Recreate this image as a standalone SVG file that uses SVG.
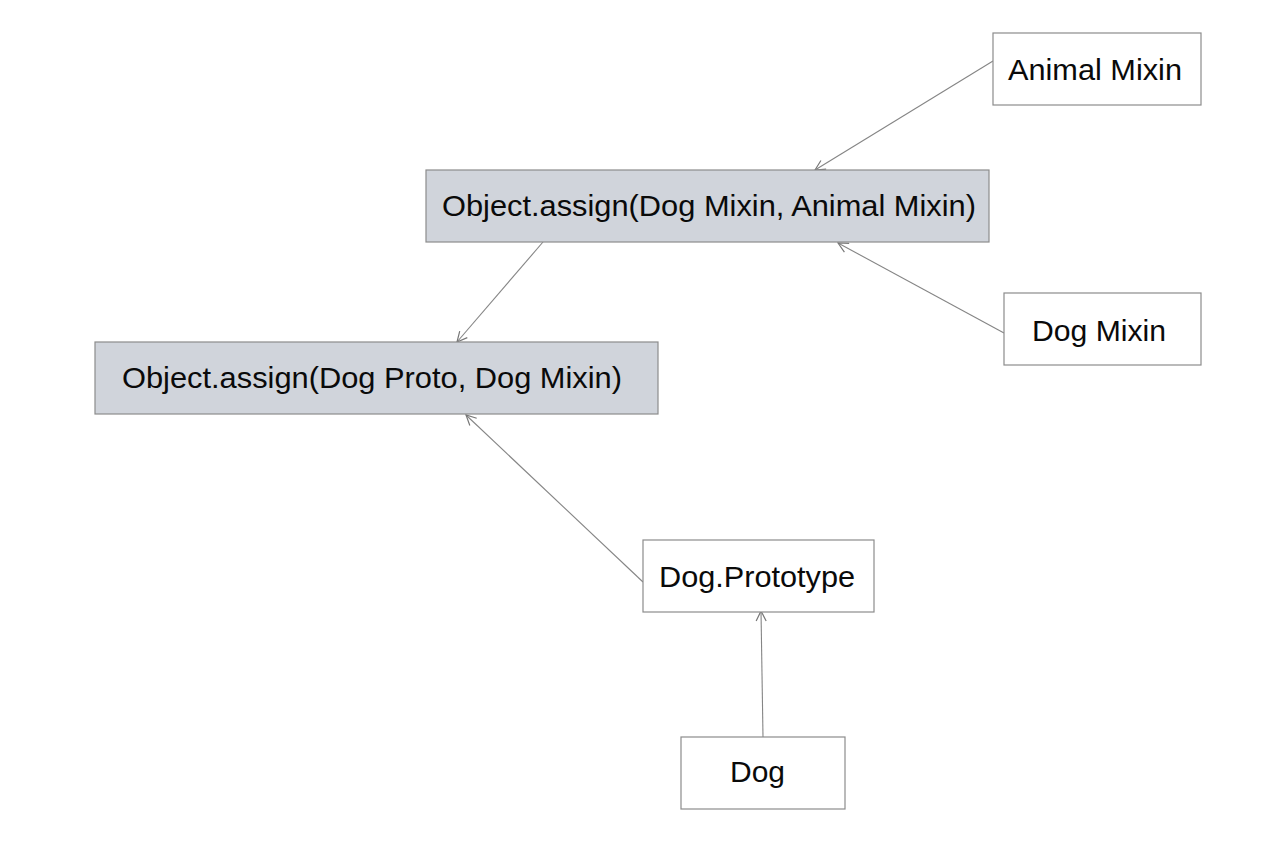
<svg xmlns="http://www.w3.org/2000/svg" width="1288" height="858" viewBox="0 0 1288 858">
  <defs>
    <style>
      .box { fill: #ffffff; stroke: #8c8c8c; stroke-width: 1.2; }
      .op { fill: #d0d4db; stroke: #8c8c8c; stroke-width: 1.2; }
      .lbl { font-family: "Liberation Sans", Arial, sans-serif; font-size: 30px; fill: #0a0a0a; text-anchor: middle; }
      .edge { fill: none; stroke: #858585; stroke-width: 1.1; marker-end: url(#arr); }
    </style>
    <marker id="arr" viewBox="0 0 12 12" refX="11" refY="6" markerWidth="12" markerHeight="12" markerUnits="userSpaceOnUse" orient="auto">
      <path d="M1,1 L11,6 L1,11" fill="none" stroke="#777777" stroke-width="1.2"/>
    </marker>
  </defs>
  <rect width="1288" height="858" fill="#ffffff"/>
  <g id="connectors">
    <line class="edge" x1="993" y1="61" x2="815" y2="170"/>
    <line class="edge" x1="1004" y1="333" x2="838" y2="243"/>
    <line class="edge" x1="543" y1="242" x2="457" y2="342"/>
    <line class="edge" x1="643" y1="582" x2="466" y2="415"/>
    <line class="edge" x1="763" y1="737" x2="761" y2="611"/>
  </g>
  <g id="animal-mixin">
    <rect class="box" x="993" y="33" width="208" height="72"/>
    <text class="lbl" x="1095" y="80" textLength="174" lengthAdjust="spacingAndGlyphs">Animal Mixin</text>
  </g>
  <g id="assign-dog-mixin">
    <rect class="op" x="426" y="170" width="563" height="72"/>
    <text class="lbl" x="709" y="216" textLength="534" lengthAdjust="spacingAndGlyphs">Object.assign(Dog Mixin, Animal Mixin)</text>
  </g>
  <g id="dog-mixin">
    <rect class="box" x="1004" y="293" width="197" height="72"/>
    <text class="lbl" x="1099" y="341" textLength="134" lengthAdjust="spacingAndGlyphs">Dog Mixin</text>
  </g>
  <g id="assign-dog-proto">
    <rect class="op" x="95" y="342" width="563" height="72"/>
    <text class="lbl" x="372" y="388" textLength="500" lengthAdjust="spacingAndGlyphs">Object.assign(Dog Proto, Dog Mixin)</text>
  </g>
  <g id="dog-prototype">
    <rect class="box" x="643" y="540" width="231" height="72"/>
    <text class="lbl" x="757" y="587" textLength="196" lengthAdjust="spacingAndGlyphs">Dog.Prototype</text>
  </g>
  <g id="dog">
    <rect class="box" x="681" y="737" width="164" height="72"/>
    <text class="lbl" x="757.5" y="782" textLength="55" lengthAdjust="spacingAndGlyphs">Dog</text>
  </g>
</svg>
